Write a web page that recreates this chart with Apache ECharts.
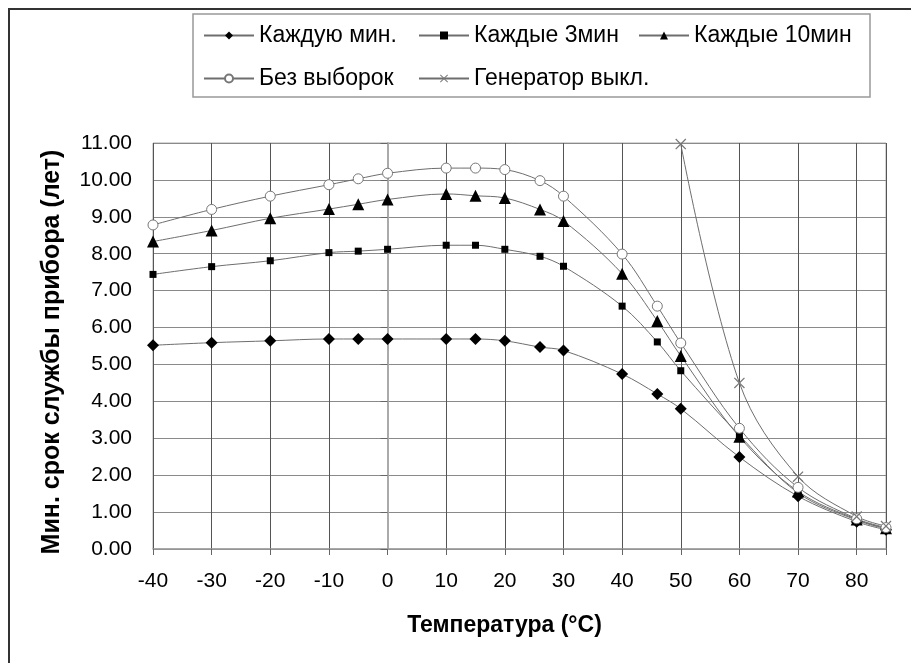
<!DOCTYPE html>
<html>
<head>
<meta charset="utf-8">
<script src="https://cdn.jsdelivr.net/npm/echarts@6/dist/echarts.min.js"></script>
<style>
  html, body { margin: 0; padding: 0; background: #fff; }
  #chart { width: 911px; height: 663px; }
</style>
</head>
<body>
<div id="chart"></div>
<script>
// температуры (°C) по оси X
const temps = [-40, -30, -20, -10, -5, 0, 10, 15, 20, 26, 30, 40, 46, 50, 60, 70, 80, 85];
const genTemps = [50, 60, 70, 80, 85];

// срок службы (лет)
const everyMin = [5.52, 5.59, 5.64, 5.69, 5.69, 5.69, 5.69, 5.69, 5.64, 5.47, 5.38, 4.74, 4.20, 3.80, 2.49, 1.43, 0.74, 0.52];
const every3Min = [7.44, 7.65, 7.81, 8.03, 8.07, 8.12, 8.23, 8.23, 8.12, 7.93, 7.66, 6.58, 5.61, 4.83, 3.08, 1.52, 0.78, 0.55];
const every10Min = [8.33, 8.63, 8.96, 9.21, 9.34, 9.47, 9.62, 9.57, 9.51, 9.20, 8.89, 7.46, 6.18, 5.23, 3.04, 1.56, 0.80, 0.56];
const noSamples = [8.78, 9.20, 9.56, 9.87, 10.03, 10.18, 10.32, 10.32, 10.28, 9.98, 9.56, 7.99, 6.58, 5.58, 3.27, 1.67, 0.82, 0.58];
const generatorOff = [10.97, 4.50, 1.96, 0.88, 0.62];

const names = ['Каждую мин.', 'Каждые 3мин', 'Каждые 10мин', 'Без выборок', 'Генератор выкл.'];

const FONT = '"Liberation Sans", Arial, sans-serif';
const LINE = '#6e6e6e';
// крестик как заполненный контур
const crossPath = 'path://M0,0.8L0.8,0L5,4.2L9.2,0L10,0.8L5.8,5L10,9.2L9.2,10L5,5.8L0.8,10L0,9.2L4.2,5Z';

function pairs(xs, ys) {
  return xs.map((x, i) => [x, ys[i]]);
}

function mkSeries(name, xs, ys, symbol, size, itemStyle) {
  return {
    name: name,
    type: 'line',
    data: pairs(xs, ys),
    smooth: 0.35,
    symbol: symbol,
    symbolSize: size,
    showAllSymbol: true,
    lineStyle: { color: LINE, width: 1 },
    itemStyle: itemStyle,
    emphasis: { disabled: true }
  };
}

// отдельная легенда для каждого элемента, чтобы повторить раскладку
function mkLegend(name, left, top) {
  return {
    data: [name],
    left: left,
    top: top,
    itemWidth: 50,
    itemHeight: 10,
    itemGap: 0,
    padding: 0,
    selectedMode: false,
    textStyle: { fontFamily: FONT, fontSize: 23, color: '#000' }
  };
}

const chart = echarts.init(document.getElementById('chart'));
const option = {
  animation: false,
  backgroundColor: '#fff',
  graphic: [
    { type: 'rect', shape: { x: 9, y: 9, width: 1000, height: 1000 }, style: { fill: 'none', stroke: '#333', lineWidth: 2 } },
    { type: 'rect', shape: { x: 193, y: 14, width: 677, height: 83 }, style: { fill: 'none', stroke: '#999', lineWidth: 1.5 } }
  ],
  legend: [
    mkLegend(names[0], 203, 24),
    mkLegend(names[1], 418, 24),
    mkLegend(names[2], 638, 24),
    mkLegend(names[3], 203, 67),
    mkLegend(names[4], 418, 67)
  ],
  grid: {
    left: 153, right: 25, top: 143, bottom: 114,
    show: true, borderColor: '#aaa', borderWidth: 1
  },
  xAxis: {
    type: 'value',
    min: -40, max: 85, interval: 10,
    name: 'Температура (°C)',
    nameLocation: 'middle',
    nameGap: 65,
    nameTextStyle: { fontFamily: FONT, fontSize: 23, fontWeight: 'bold', color: '#000', padding: [0, 30, 0, 0] },
    axisLine: { onZero: false, lineStyle: { color: '#999', width: 1.5 } },
    axisTick: { show: true, length: 6, lineStyle: { color: '#666' } },
    axisLabel: {
      fontFamily: FONT, fontSize: 21, color: '#000', margin: 22,
      formatter: v => (v === 85 ? '' : String(v))
    },
    splitLine: { show: true, lineStyle: { color: '#555', width: 1 } }
  },
  yAxis: {
    type: 'value',
    min: 0, max: 11, interval: 1,
    name: 'Мин. срок службы прибора (лет)',
    nameLocation: 'middle',
    nameGap: 88,
    nameTextStyle: { fontFamily: FONT, fontSize: 25, fontWeight: 'bold', color: '#000', padding: [0, 12, 0, 0] },
    axisLine: { show: true, lineStyle: { color: '#aaa', width: 2 } },
    axisTick: { show: true, length: 7, lineStyle: { color: '#666' } },
    axisLabel: {
      fontFamily: FONT, fontSize: 21, color: '#000', margin: 21,
      formatter: v => v.toFixed(2)
    },
    splitLine: { show: true, lineStyle: { color: '#8a8a8a', width: 1.2 } }
  },
  series: [
    mkSeries(names[0], temps, everyMin, 'diamond', 12, { color: '#000' }),
    mkSeries(names[1], temps, every3Min, 'rect', 7, { color: '#000' }),
    mkSeries(names[2], temps, every10Min, 'triangle', 12, { color: '#000' }),
    mkSeries(names[3], temps, noSamples, 'circle', 10, { color: '#fff', borderColor: '#777', borderWidth: 1 }),
    mkSeries(names[4], genTemps, generatorOff, crossPath, 11, { color: '#777' })
  ]
};
chart.setOption(option);
</script>
</body>
</html>
